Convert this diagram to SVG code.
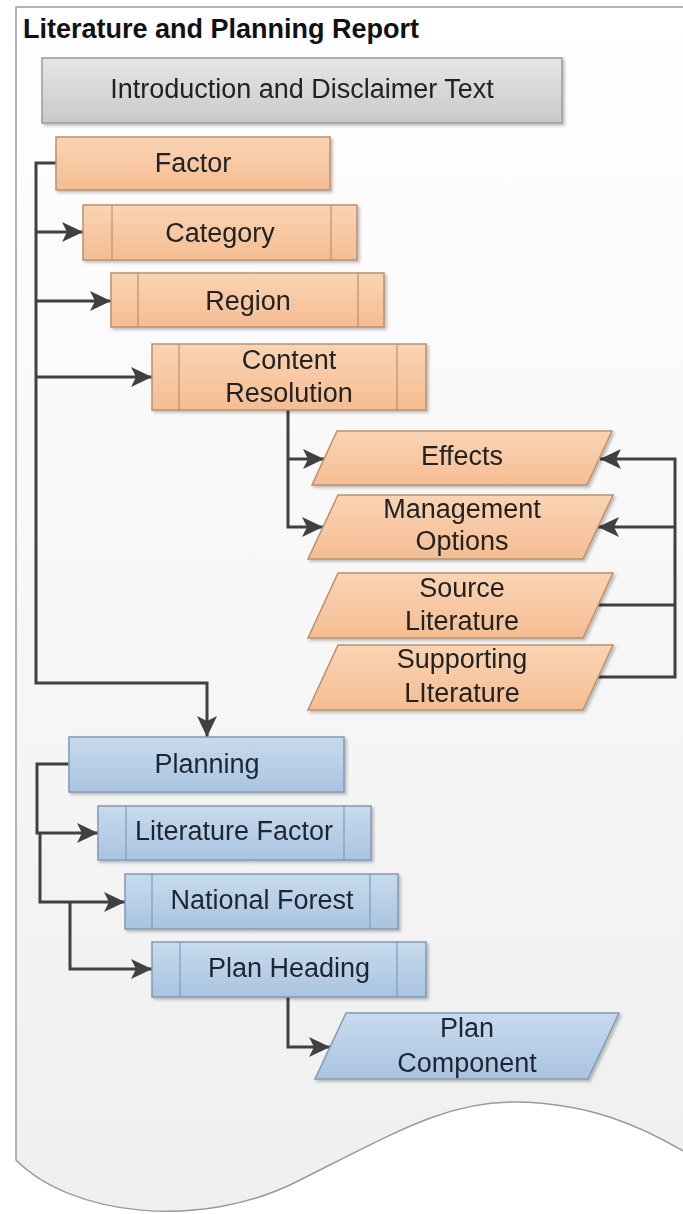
<svg xmlns="http://www.w3.org/2000/svg" width="683" height="1214" viewBox="0 0 683 1214">
<style>
.t{font-family:"Liberation Sans",Arial,sans-serif;font-size:27px;text-anchor:middle;fill:#222}
.tb{fill:#1c2533}
.title{font-family:"Liberation Sans",Arial,sans-serif;font-size:27px;font-weight:bold;fill:#111}
.o{fill:url(#gO);stroke:#b7916f;stroke-width:1.5}
.b{fill:url(#gB);stroke:#8399b2;stroke-width:1.5}
.g{fill:url(#gG);stroke:#9a9a9a;stroke-width:1.5}
.io{stroke:#b7916f;stroke-width:1.2}
.ib{stroke:#8399b2;stroke-width:1.2}
.c{fill:none;stroke:#404040;stroke-width:3}
.a{marker-end:url(#ar)}
</style>
<defs>
<linearGradient id="gO" x1="0" y1="0" x2="0" y2="1"><stop offset="0" stop-color="#fad4b4"/><stop offset="1" stop-color="#f5bd92"/></linearGradient>
<linearGradient id="gB" x1="0" y1="0" x2="0" y2="1"><stop offset="0" stop-color="#c8daee"/><stop offset="1" stop-color="#a9c4e0"/></linearGradient>
<linearGradient id="gG" x1="0" y1="0" x2="0" y2="1"><stop offset="0" stop-color="#e6e6e6"/><stop offset="1" stop-color="#c9c9c9"/></linearGradient>
<linearGradient id="gD" x1="0" y1="0" x2="0" y2="1"><stop offset="0" stop-color="#ffffff"/><stop offset="1" stop-color="#efefef"/></linearGradient>
<filter id="sh" x="-5%" y="-10%" width="115%" height="130%"><feDropShadow dx="2" dy="2" stdDeviation="1.5" flood-color="#000" flood-opacity="0.25"/></filter>
<marker id="ar" markerUnits="userSpaceOnUse" markerWidth="22" markerHeight="20" refX="21" refY="10" orient="auto"><path d="M0,0 L21,10 L0,20 L5,10 Z" fill="#404040"/></marker>
</defs>
<rect width="683" height="1214" fill="#ffffff"/>
<g id="document">
<path d="M16,7 H700 V1165 L690,1155 C640,1125 590,1104 520,1102 C450,1100 400,1130 300,1180 C200,1232 70,1215 16,1160 Z" fill="url(#gD)" stroke="#9a9a9a" stroke-width="1.5"/>
<text class="title" x="23" y="38">Literature and Planning Report</text>
</g>
<g id="connectors">
<path class="c a" d="M56,163 H36 V683 H207 V737"/>
<path class="c a" d="M36,232 H83"/>
<path class="c a" d="M36,301 H111"/>
<path class="c a" d="M36,377 H152"/>
<path class="c a" d="M288,410 V527 H323"/>
<path class="c a" d="M288,459 H324"/>
<path class="c a" d="M598,677 H675 V459 H600"/>
<path class="c a" d="M675,527 H598"/>
<path class="c" d="M598,605 H675"/>
<path class="c a" d="M69,764 H37 V833 H98"/>
<path class="c a" d="M40,833 V902 H125"/>
<path class="c a" d="M70,902 V969 H152"/>
<path class="c a" d="M288,997 V1047 H330"/>
</g>
<g id="intro" filter="url(#sh)">
<rect class="g" x="42" y="58" width="520" height="65"/>
<text class="t" x="302" y="98">Introduction and Disclaimer Text</text>
</g>
<g id="factor" filter="url(#sh)">
<rect class="o" x="56" y="137" width="274" height="53"/>
<text class="t" x="193" y="172">Factor</text>
</g>
<g id="category" filter="url(#sh)">
<rect class="o" x="83" y="205" width="274" height="55"/>
<line class="io" x1="112" y1="205" x2="112" y2="260"/><line class="io" x1="331" y1="205" x2="331" y2="260"/>
<text class="t" x="220" y="242">Category</text>
</g>
<g id="region" filter="url(#sh)">
<rect class="o" x="111" y="273" width="273" height="54"/>
<line class="io" x1="138" y1="273" x2="138" y2="327"/><line class="io" x1="358" y1="273" x2="358" y2="327"/>
<text class="t" x="248" y="310">Region</text>
</g>
<g id="content-resolution" filter="url(#sh)">
<rect class="o" x="152" y="344" width="274" height="66"/>
<line class="io" x1="179" y1="344" x2="179" y2="410"/><line class="io" x1="397" y1="344" x2="397" y2="410"/>
<text class="t" x="289" y="369">Content</text>
<text class="t" x="289" y="402">Resolution</text>
</g>
<g id="effects" filter="url(#sh)">
<polygon class="o" points="337,431 612,431 587,485 312,485"/>
<text class="t" x="462" y="465">Effects</text>
</g>
<g id="management-options" filter="url(#sh)">
<polygon class="o" points="338,495 613,495 583,559 308,559"/>
<text class="t" x="462" y="518">Management</text>
<text class="t" x="462" y="550">Options</text>
</g>
<g id="source-literature" filter="url(#sh)">
<polygon class="o" points="338,573 613,573 583,638 308,638"/>
<text class="t" x="462" y="597">Source</text>
<text class="t" x="462" y="630">Literature</text>
</g>
<g id="supporting-literature" filter="url(#sh)">
<polygon class="o" points="338,645 613,645 583,710 308,710"/>
<text class="t" x="462" y="668">Supporting</text>
<text class="t" x="462" y="702">LIterature</text>
</g>
<g id="planning" filter="url(#sh)">
<rect class="b" x="69" y="737" width="275" height="55"/>
<text class="t tb" x="207" y="773">Planning</text>
</g>
<g id="literature-factor" filter="url(#sh)">
<rect class="b" x="98" y="806" width="273" height="54"/>
<line class="ib" x1="126" y1="806" x2="126" y2="860"/><line class="ib" x1="344" y1="806" x2="344" y2="860"/>
<text class="t tb" x="234" y="840">Literature Factor</text>
</g>
<g id="national-forest" filter="url(#sh)">
<rect class="b" x="125" y="874" width="273" height="55"/>
<line class="ib" x1="152" y1="874" x2="152" y2="929"/><line class="ib" x1="370" y1="874" x2="370" y2="929"/>
<text class="t tb" x="262" y="909">National Forest</text>
</g>
<g id="plan-heading" filter="url(#sh)">
<rect class="b" x="152" y="942" width="274" height="55"/>
<line class="ib" x1="180" y1="942" x2="180" y2="997"/><line class="ib" x1="397" y1="942" x2="397" y2="997"/>
<text class="t tb" x="289" y="977">Plan Heading</text>
</g>
<g id="plan-component" filter="url(#sh)">
<polygon class="b" points="346,1013 619,1013 588,1079 315,1079"/>
<text class="t tb" x="467" y="1037">Plan</text>
<text class="t tb" x="467" y="1072">Component</text>
</g>
</svg>
